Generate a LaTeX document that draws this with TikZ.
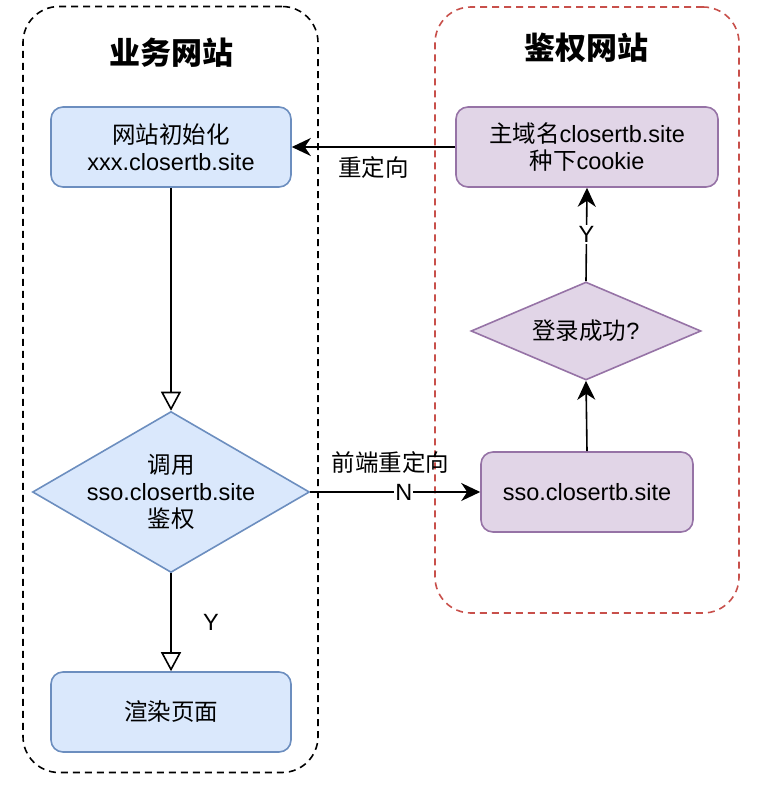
\documentclass[tikz,border=0pt]{standalone}
\usepackage{fontspec}
\setmainfont{Liberation Sans}
\newfontfamily\cjk{Noto Sans CJK SC}
\usetikzlibrary{arrows.meta, positioning, shapes.geometric}

\definecolor{bizfill}{HTML}{DAE8FC}
\definecolor{bizline}{HTML}{6C8EBF}
\definecolor{authfill}{HTML}{E1D5E7}
\definecolor{authline}{HTML}{9673A6}
\definecolor{authframe}{HTML}{C8504B}

\begin{document}
\begin{tikzpicture}[
    x=1pt, y=-1pt,
    font=\fontsize{23.5}{27}\selectfont,
    line width=1.6pt,
    >={Stealth[length=19pt, width=18pt, inset=6pt]},
    frame/.style={draw, dash pattern=on 7pt off 5pt, rounded corners=36pt, line width=1.6pt},
    stepbox/.style={draw, rounded corners=12pt, minimum width=240, minimum height=80, align=center, inner sep=0pt},
    choice/.style={draw, diamond, inner sep=0pt},
    hollow/.style={-{Triangle[open, length=19pt, width=20pt]}},
    tag/.style={inner sep=1pt, fill=white},
    ]

    \useasboundingbox (0,0) rectangle (756,794);

    % ==========================================
    % Frames for the two sites
    % ==========================================
    \node[frame, minimum width=295, minimum height=766] (biz-frame) at (170.5, 389.5) {};
    \node[frame, draw=authframe, minimum width=304, minimum height=606] (auth-frame) at (587, 310) {};

    \node[font=\fontsize{31}{31}\selectfont\cjk\bfseries] (biz-title) at (171, 53) {业务网站};
    \node[font=\fontsize{31}{31}\selectfont\cjk\bfseries] (auth-title) at (586, 48) {鉴权网站};

    % ==========================================
    % Business site flow
    % ==========================================
    \node[stepbox, fill=bizfill, draw=bizline] (init) at (171, 147) {{\cjk 网站初始化}\\xxx.closertb.site};
    \node[choice, fill=bizfill, draw=bizline, minimum width=277, minimum height=161] (check) at (171, 492) {};
    \node[align=center] (check-text) at (check) {{\cjk 调用}\\sso.closertb.site\\{\cjk 鉴权}};
    \node[stepbox, fill=bizfill, draw=bizline] (render) at (171, 712) {\cjk 渲染页面};

    % ==========================================
    % Auth site flow
    % ==========================================
    \node[stepbox, fill=authfill, draw=authline, minimum width=212] (sso) at (587, 492) {sso.closertb.site};
    \node[choice, fill=authfill, draw=authline, minimum width=230, minimum height=98] (login) at (586, 331) {};
    \node (login-text) at (login) {{\cjk 登录成功}?};
    \node[stepbox, fill=authfill, draw=authline, minimum width=262] (cookie) at (587, 147) {{\cjk 主域名}closertb.site\\{\cjk 种下}cookie};

    % ==========================================
    % Connectors
    % ==========================================
    \draw[hollow] (init.south) -- (check.north);
    \draw[hollow] (check.south) -- node[midway, xshift=40pt] {Y} (render.north);
    \draw[->] (check.east) -- node[pos=0.55, tag] {N}
        node[midway, xshift=-5pt, yshift=29pt] {\cjk 前端重定向} (sso.west);
    \draw[->] (sso.north) -- (login.south);
    \draw[->] (login.north) -- node[midway, tag] {Y} (cookie.south);
    \draw[->] (cookie.west) -- node[midway, yshift=-21pt] {\cjk 重定向} (init.east);

\end{tikzpicture}
\end{document}
